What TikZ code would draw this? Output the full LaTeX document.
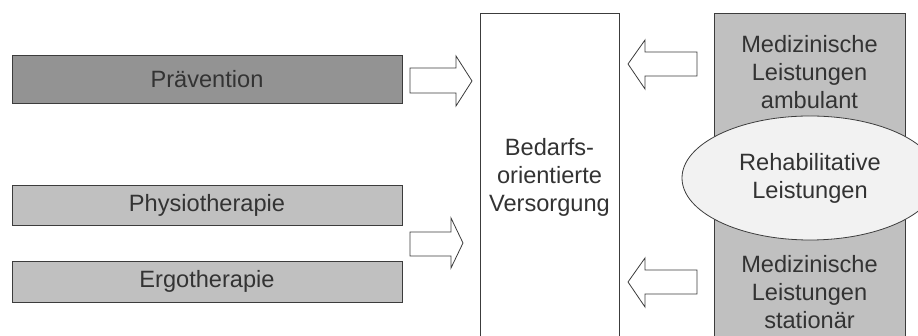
\documentclass[tikz,border=0pt]{standalone}
\usepackage{fontspec}
\setmainfont{Liberation Sans}
\usetikzlibrary{shapes.geometric}
\definecolor{txt}{HTML}{333333}
\definecolor{edge}{HTML}{3C3C3C}
\definecolor{darkfill}{HTML}{939393}
\definecolor{lightfill}{HTML}{C0C0C0}
\definecolor{ellfill}{HTML}{F2F2F2}
\begin{document}
\begin{tikzpicture}[x=1pt,y=1pt,
  every node/.style={font=\fontsize{23.6}{28}\selectfont, text=txt, align=center},
  bar/.style={draw=edge, line width=0.8pt, minimum width=390pt, inner sep=0pt},
  column/.style={draw=edge, line width=0.8pt, inner sep=0pt},
  blockarrow/.style={draw=edge, line width=0.8pt, fill=white, line join=miter}]
\useasboundingbox (0,0) rectangle (918,336);
\clip (0,0) rectangle (918,336);
% left bars
\node[bar, fill=darkfill, minimum height=48pt] (prae) at (207,257) {Prävention};
\node[bar, fill=lightfill, minimum height=40pt] (physio) at (207,131) {Physiotherapie};
\node[bar, fill=lightfill, minimum height=41pt] (ergo) at (207,54.5) {Ergotherapie};
% central column
\node[column, fill=white, minimum width=139pt, minimum height=328pt] (bedarf) at (549.5,159) {Bedarfs-\\orientierte\\Versorgung};
% right column
\node[column, fill=lightfill, minimum width=191pt, minimum height=328pt] (med) at (809.5,159) {};
\node (amb) at (809.5,264) {Medizinische\\Leistungen\\ambulant};
\node (stat) at (809.5,44) {Medizinische\\Leistungen\\stationär};
\node[ellipse, draw=edge, line width=0.8pt, fill=ellfill, minimum width=256pt, minimum height=124pt, inner sep=0pt] (reha) at (810,158) {Rehabilitative\\Leistungen};
% block arrows
\draw[blockarrow] (410,268) -- (456,268) -- (456,280) -- (472,255) -- (456,230) -- (456,243) -- (410,243) -- cycle;
\draw[blockarrow] (410,104) -- (451,104) -- (451,118) -- (463,93) -- (451,68) -- (451,80) -- (410,80) -- cycle;
\draw[blockarrow] (697,284) -- (645,284) -- (645,296) -- (628,272) -- (645,247) -- (645,260) -- (697,260) -- cycle;
\draw[blockarrow] (697,66) -- (645,66) -- (645,78) -- (628,54) -- (645,29) -- (645,42) -- (697,42) -- cycle;
\end{tikzpicture}
\end{document}
